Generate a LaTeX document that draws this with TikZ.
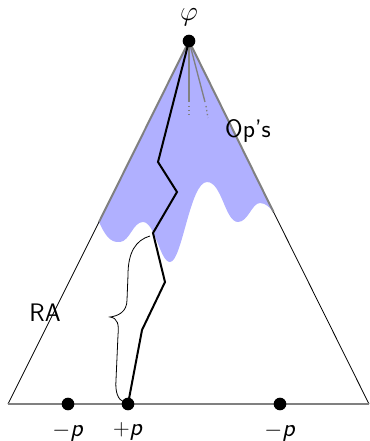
\documentclass[tikz,border=0pt]{standalone}
\usepackage{tikz}
\usetikzlibrary{positioning}
\definecolor{lightblue}{RGB}{176,176,255}
\definecolor{midgray}{RGB}{128,128,128}

\begin{document}
\begin{tikzpicture}[x=0.75pt,y=-0.75pt,node distance=2pt]
  \tikzstyle{dot}=[circle,fill=black,inner sep=0pt,minimum size=9.5pt]
  \tikzstyle{lbl}=[font=\fontsize{19}{22}\selectfont\sffamily,inner sep=1pt]
  \tikzstyle{edge}=[draw=midgray,line width=1.5pt]
  \tikzstyle{side}=[draw=black,line width=0.6pt]
  \tikzstyle{chain}=[draw=black,line width=1.5pt,line join=miter]

  \useasboundingbox (0,0) rectangle (369,441);

  % region under phi
  \fill[lightblue] (189,41) -- (99,222)
    .. controls (105,235) and (110,243) .. (120,242)
    .. controls (130,241) and (133,222) .. (143,222)
    .. controls (155,222) and (160,262) .. (170,262)
    .. controls (182,262) and (190,182) .. (207,182)
    .. controls (222,182) and (225,222) .. (238,222)
    .. controls (248,222) and (252,203) .. (260,203)
    .. controls (266,203) and (270,208) .. (273.5,212) -- cycle;

  \coordinate (L) at (8,404);
  \coordinate (R) at (369,404);
  \coordinate (wl) at (99,222);
  \coordinate (wr) at (273.5,212);

  % triangle
  \draw[edge] (wl) -- (189,41) -- (wr);
  \draw[side] (wl) -- (L);
  \draw[side] (wr) -- (R);
  \draw[edge] (L) -- (R);

  % operators
  \draw[draw=midgray,line width=1pt] (189,41) -- (189,102);
  \draw[draw=midgray,line width=1pt] (189,41) -- (205,102);
  \draw[draw=midgray,line width=1pt,dotted] (189,106) -- (189,118);
  \draw[draw=midgray,line width=1pt,dotted] (206,106) -- (208,118);

  \node[dot] (apex) at (189,41) {};
  \node[dot] (m1) at (68,404) {};
  \node[dot] (pp) at (128,404) {};
  \node[dot] (m2) at (280,404) {};

  \draw[chain] (apex.center) -- (158,162) -- (177,192) -- (153,233)
    -- (165,282) -- (142,330) -- (pp.center);

  % brace
  \draw[side] (150,236) .. controls (136,240) and (128,252) .. (128,275)
    -- (127,300) .. controls (127,312) and (118,316) .. (110,317)
    .. controls (118,318) and (119,325) .. (118,335)
    -- (116,380) .. controls (115,392) and (118,400) .. (124,402);

  \node[lbl,font=\fontsize{21}{24}\selectfont,inner sep=0pt] (phi) at (189,17) {$\varphi$};
  \node[lbl] (ops) at (248,131) {Op's};
  \node[lbl] (ra) at (45,313) {RA};
  \node[lbl,below=8pt of m1] (lm1) {$-$\textsl{p}};
  \node[lbl,below=8pt of pp] (lpp) {$+$\textsl{p}};
  \node[lbl,below=8pt of m2] (lm2) {$-$\textsl{p}};
\end{tikzpicture}
\end{document}
